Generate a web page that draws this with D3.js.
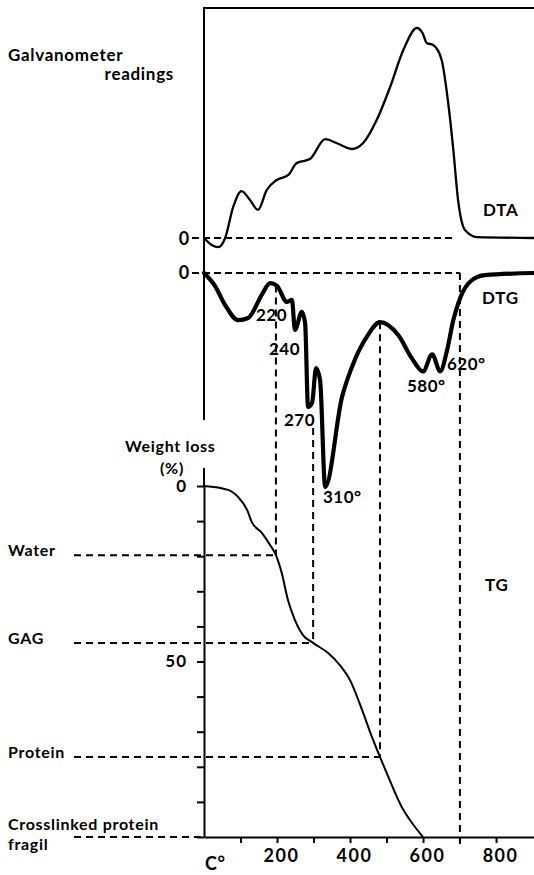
<!DOCTYPE html>
<html>
<head>
<meta charset="utf-8">
<script src="https://cdn.jsdelivr.net/npm/d3@7"></script>
<style>
  body { margin: 0; background: #fff; }
  svg text { font-family: Lato, "DejaVu Sans", sans-serif; font-weight: 700; fill: #000; }
</style>
</head>
<body>
<svg id="chart" width="534" height="875"></svg>
<script>
// DTA trace (galvanometer deflection, arbitrary units)
var dtaTemp  = [0, 21, 39, 58, 80, 103, 126, 148, 172, 199, 231, 254, 290, 332, 363, 405, 436, 473, 510, 546, 583, 599, 610, 628, 651, 668, 683, 696, 715, 748, 904];
var dtaValue = [0, -3, -4, 0, 13.5, 20.4, 16.5, 12.2, 20.9, 25.2, 27.4, 32.6, 34.3, 43, 41.3, 38.7, 41.3, 51.3, 65.7, 81.7, 91.3, 89, 84.8, 83.9, 77.4, 60, 38.3, 16.5, 3.5, 0.4, 0];

// DTG trace (rate of weight loss, arbitrary units, negative = loss)
var dtgTemp  = [0, 30, 58, 93, 121, 159, 181, 200, 227, 241, 249, 268, 277, 285, 296, 307, 318, 332, 378, 405, 449, 482, 532, 570, 600, 625, 647, 666, 683, 701, 734, 770, 904];
var dtgValue = [0, -6, -15, -22, -21, -10, -4.7, -6, -13.5, -12.6, -26.6, -18.2, -23.4, -62.6, -60.7, -44.4, -50, -100, -58, -44, -29, -23, -29, -40, -46, -38, -46, -36, -22, -12, -3.3, -1, 0];

// TG trace (weight loss, %)
var tgTemp = [0, 66, 93, 118, 131, 159, 181, 197, 213, 230, 249, 271, 299, 340, 372, 400, 433, 460, 482, 505, 542, 570, 600];
var tgLoss = [0, 1.1, 3.1, 6.8, 10.3, 13.4, 16.8, 19.7, 24.8, 32.5, 38.2, 42.5, 44.7, 47.6, 51, 55.3, 63.8, 71.5, 77.2, 82.9, 91.5, 96, 100];

// fractions
var stepNames = ["Water", "GAG", "Protein", "Crosslinked protein"];
var stepTemp  = [197, 299, 482, 701];
var stepLoss  = [19.7, 44.7, 77.2, 100];

// DTG peak labels
var peakLabels = ["220", "240", "270", "310°", "580°", "620°"];

var xTicks = [100, 200, 300, 400, 500, 600, 700, 800];
var xTickLabels = [200, 400, 600, 800];
var tgTicks = [0, 10, 20, 30, 40, 50, 60, 70, 80, 90, 100];
var tgTickLabels = [0, 50];

var svg = d3.select("#chart");

var x = d3.scaleLinear().domain([0, 904]).range([204, 534]);
var yDta = d3.scaleLinear().domain([0, 100]).range([238, 8]);
var yDtg = d3.scaleLinear().domain([-100, 0]).range([487, 273]);
var yTg = d3.scaleLinear().domain([0, 100]).range([486, 837]);

function zip(a, b) { return a.map(function(d, i) { return [d, b[i]]; }); }
function dtgAt(t) {
  var i = d3.bisectLeft(dtgTemp, t);
  if (i <= 0) return dtgValue[0];
  var t0 = dtgTemp[i - 1], t1 = dtgTemp[i];
  return dtgValue[i - 1] + (dtgValue[i] - dtgValue[i - 1]) * (t - t0) / (t1 - t0);
}

// frame of upper panels
svg.append("path")
  .attr("d", "M" + x(0) + "," + 420 + "V" + yDta(100) + "H" + 534)
  .attr("fill", "none").attr("stroke", "#000").attr("stroke-width", 2);

// dashed zero lines
svg.append("line")
  .attr("x1", 192).attr("x2", x(680)).attr("y1", yDta(0)).attr("y2", yDta(0))
  .attr("stroke", "#000").attr("stroke-width", 2).attr("stroke-dasharray", "7,4");
svg.append("line")
  .attr("x1", 192).attr("x2", x(701)).attr("y1", yDtg(0)).attr("y2", yDtg(0))
  .attr("stroke", "#000").attr("stroke-width", 2).attr("stroke-dasharray", "7,4");

// vertical dashed guides from DTG down to TG steps
stepTemp.forEach(function(t, i) {
  var top = i === 3 ? yDtg(0) : yDtg(dtgAt(t));
  if (i === 1) top = 428; // starts below the 270 label
  var bottom = i === 3 ? yTg(100) + 8 : yTg(stepLoss[i]);
  svg.append("line")
    .attr("x1", x(t)).attr("x2", x(t)).attr("y1", top).attr("y2", bottom)
    .attr("stroke", "#000").attr("stroke-width", 2).attr("stroke-dasharray", "7,5");
});

// horizontal dashed guides from labels to TG curve
stepLoss.forEach(function(v, i) {
  var x2 = i === 3 ? x(0) : x(stepTemp[i]);
  svg.append("line")
    .attr("x1", 74).attr("x2", x2).attr("y1", yTg(v)).attr("y2", yTg(v))
    .attr("stroke", "#000").attr("stroke-width", 2).attr("stroke-dasharray", "7,5");
});

// curves
svg.append("path")
  .datum(zip(dtaTemp, dtaValue))
  .attr("d", d3.line().x(d => x(d[0])).y(d => yDta(d[1])).curve(d3.curveMonotoneX))
  .attr("fill", "none").attr("stroke", "#000").attr("stroke-width", 2.3);

svg.append("path")
  .datum(zip(dtgTemp, dtgValue))
  .attr("d", d3.line().x(d => x(d[0])).y(d => yDtg(d[1])).curve(d3.curveMonotoneX))
  .attr("fill", "none").attr("stroke", "#000").attr("stroke-width", 4.2)
  .attr("stroke-linejoin", "round").attr("stroke-linecap", "round");

svg.append("path")
  .datum(zip(tgTemp, tgLoss))
  .attr("d", d3.line().x(d => x(d[0])).y(d => yTg(d[1])).curve(d3.curveMonotoneX))
  .attr("fill", "none").attr("stroke", "#000").attr("stroke-width", 2);

// TG axis
var tgAxis = svg.append("g")
  .attr("transform", "translate(" + x(0) + ",0)")
  .call(d3.axisLeft(yTg).tickValues(tgTicks).tickSize(7).tickSizeOuter(0)
    .tickFormat(d => tgTickLabels.indexOf(d) >= 0 ? String(d) : ""));
tgAxis.select(".domain").attr("stroke-width", 2);
tgAxis.selectAll(".tick line").attr("stroke-width", 2);
tgAxis.selectAll(".tick text").attr("font-size", 17).attr("font-family", null)
  .attr("letter-spacing", 1).attr("x", -17);
svg.append("line")
  .attr("x1", x(0)).attr("x2", x(0)).attr("y1", 468).attr("y2", yTg(0))
  .attr("stroke", "#000").attr("stroke-width", 2);

// temperature axis
var xAxis = svg.append("g")
  .attr("transform", "translate(0," + yTg(100) + ")")
  .call(d3.axisBottom(x).tickValues(xTicks).tickSize(6).tickSizeOuter(0)
    .tickFormat(d => xTickLabels.indexOf(d) >= 0 ? String(d) : ""));
xAxis.select(".domain").attr("stroke-width", 2);
xAxis.selectAll(".tick line").attr("stroke-width", 2);
xAxis.selectAll(".tick text").attr("font-size", 18).attr("font-family", null)
  .attr("letter-spacing", 1.5).attr("dx", 4).attr("y", 12);

// text
function label(t, px, py, size, anchor, spacing) {
  svg.append("text").attr("x", px).attr("y", py)
    .attr("font-size", size).attr("letter-spacing", spacing || 0.7)
    .attr("text-anchor", anchor || "start").text(t);
}
label("Galvanometer", 8, 61, 17);
label("readings", 174, 80, 17, "end");
label("DTA", 483, 216, 17);
label("DTG", 482, 304, 17);
label("TG", 485, 591, 17);
label("0", 190, 245, 18, "end");
label("0", 190, 279, 18, "end");
label("Weight loss", 125, 452, 16);
label("(%)", 160, 474, 16);
label("C°", 205, 870, 18);

var labelY = [556, 644, 758, 830];
stepNames.forEach(function(n, i) { label(n, 8, labelY[i], 16); });
label("fragil", 8, 850, 16);

var peakPos = [[256, 321], [269, 355], [284, 426], [323, 503], [407, 392], [447, 370]];
peakLabels.forEach(function(t, i) { label(t, peakPos[i][0], peakPos[i][1], 17, "start", 0.5); });
</script>
</body>
</html>
